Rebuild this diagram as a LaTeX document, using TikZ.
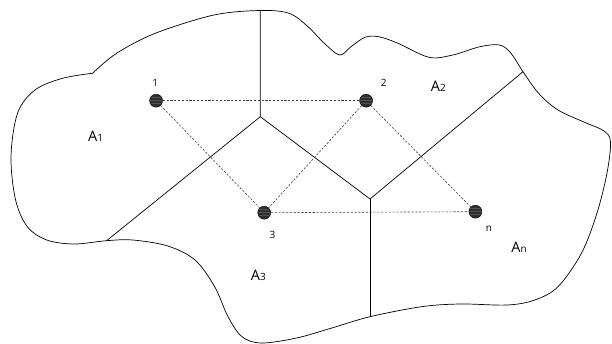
\documentclass[tikz,border=0pt]{standalone}
\usepackage{fontspec}
\setmainfont{Open Sans}
\tikzset{
  site/.style={circle, draw=black, fill=black!82, minimum size=13pt, inner sep=0pt, line width=0.4pt,
    path picture={
      \foreach \k in {-0.2,0.05,0.25}
        \draw[black!68, line width=0.3pt]
          ([yshift=\k*13pt]path picture bounding box.west) -- ([yshift=\k*13pt]path picture bounding box.east);
    }},
  link/.style={dash pattern=on 2.2pt off 1.6pt, draw=black!75, line width=0.6pt},
  border/.style={draw=black, line width=0.7pt},
  wall/.style={draw=black, line width=0.7pt},
  num/.style={font=\fontsize{10}{11}\selectfont, inner sep=0pt},
  region/.style={font=\fontsize{14.5}{16}\selectfont, inner sep=0pt},
}
\newcommand{\regionname}[1]{A{\fontsize{10}{11}\selectfont #1}}
\begin{document}
\begin{tikzpicture}[x=1pt,y=-1pt]
\useasboundingbox (0,0) rectangle (612,344);

% outer boundary of the domain
\draw[border] plot[smooth, tension=0.55] coordinates {
  (92.5,73.3) (117,53) (156,33) (214,15) (260.3,10.5) (289,13.3) (308,26.7)
  (324,43) (339.6,55) (351,46.7) (365,37.3) (378.6,36.7) (398,43.3) (429,57.3)
  (452.8,55) (480,46.7) (499.6,45) (511,53.3) (523,71.7) (538.6,93.3) (558,110)
  (585.5,122.7) (604,131) (610.5,142) (607,173) (597,213) (581.6,253) (558,286.7)
  (534.7,300) (507.4,305) (460.6,304) (421.5,306.7) (370,316.7) (331.8,328)
  (296.6,338) (261.5,343) (242,336.7) (228,316.7) (214.7,286.7) (195,260)
  (167.8,246) (132.7,240) (106.6,240.7) (74,244) (46.8,240) (27.3,226.7)
  (15.6,200) (11,156.7) (17.6,113) (35,90) (62.5,78.3) (92.5,73.3)};

% cell walls
\coordinate (top) at (260.3,10.5);
\coordinate (ja) at (260.3,116.7);
\coordinate (jb) at (370,199);
\coordinate (left) at (106.6,240.7);
\coordinate (right) at (523,71.7);
\coordinate (bottom) at (370,316.7);
\draw[wall] (top) -- (ja) -- (left);
\draw[wall] (ja) -- (jb) -- (right);
\draw[wall] (jb) -- (bottom);

% generator points
\node[site] (s1) at (156.1,100.7) {};
\node[site] (s2) at (366.1,100.7) {};
\node[site] (s3) at (264.2,212.7) {};
\node[site] (sn) at (475.4,211.7) {};

% neighbour links
\draw[link] (s1) -- (s2);
\draw[link] (s1) -- (s3);
\draw[link] (s2) -- (s3);
\draw[link] (s2) -- (sn);
\draw[link] (s3) -- (sn);

% point labels
\node[num] (l1) at (155.3,82.7) {1};
\node[num] (l2) at (383.7,83.3) {2};
\node[num] (l3) at (272.4,235) {3};
\node[num] (ln) at (489,228.3) {n};

% cell labels
\node[region] (a1) at (95.6,136.7) {\regionname{1}};
\node[region] (a2) at (438.3,86) {\regionname{2}};
\node[region] (a3) at (258.4,275.3) {\regionname{3}};
\node[region] (an) at (519.1,247.3) {\regionname{n}};
\end{tikzpicture}
\end{document}
